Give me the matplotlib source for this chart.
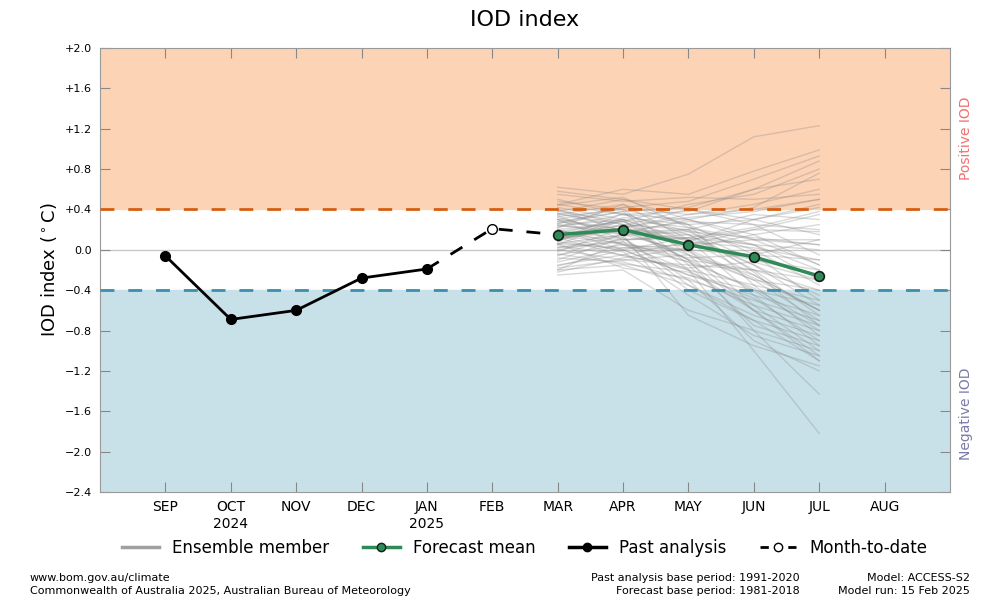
import numpy as np
import matplotlib
matplotlib.use("Agg")
import matplotlib.pyplot as plt
from matplotlib.lines import Line2D

months = ["SEP", "OCT\n2024", "NOV", "DEC", "JAN\n2025", "FEB",
          "MAR", "APR", "MAY", "JUN", "JUL", "AUG"]

past_x = [0, 1, 2, 3, 4]
past_vals = [-0.06, -0.69, -0.60, -0.28, -0.19]

mtd_x = [4, 5, 6]
mtd_vals = [-0.19, 0.21, 0.15]

fc_x = [6, 7, 8, 9, 10]
fc_mean = [0.15, 0.20, 0.05, -0.07, -0.26]

# ensemble members, MAR..JUL (approximate)
ensemble = [
    [0.62, 0.55, 0.75, 1.12, 1.23],
    [0.45, 0.60, 0.55, 0.78, 0.99],
    [0.30, 0.42, 0.48, 0.70, 0.93],
    [0.50, 0.35, 0.38, 0.60, 0.88],
    [0.20, 0.28, 0.45, 0.55, 0.80],
    [0.38, 0.50, 0.30, 0.42, 0.76],
    [0.55, 0.48, 0.52, 0.50, 0.55],
    [0.10, 0.22, 0.35, 0.40, 0.50],
    [0.33, 0.40, 0.25, 0.30, 0.42],
    [0.25, 0.15, 0.20, 0.35, 0.30],
    [0.05, 0.30, 0.10, 0.20, 0.18],
    [0.40, 0.25, 0.05, 0.10, 0.10],
    [0.15, 0.10, 0.15, 0.05, 0.00],
    [-0.05, 0.05, 0.00, -0.05, -0.10],
    [0.22, 0.35, 0.18, -0.10, -0.20],
    [0.00, -0.10, -0.15, -0.20, -0.30],
    [0.12, 0.18, -0.05, -0.30, -0.40],
    [-0.15, -0.05, -0.20, -0.35, -0.50],
    [0.28, 0.20, -0.10, -0.40, -0.55],
    [0.35, 0.45, 0.10, -0.25, -0.60],
    [0.08, 0.00, -0.25, -0.45, -0.65],
    [-0.10, 0.12, -0.30, -0.50, -0.70],
    [0.18, 0.28, 0.00, -0.55, -0.75],
    [0.42, 0.30, -0.20, -0.60, -0.80],
    [-0.20, -0.15, -0.35, -0.65, -0.85],
    [0.02, 0.08, -0.40, -0.70, -0.90],
    [0.26, 0.38, -0.15, -0.75, -0.95],
    [-0.25, -0.20, -0.60, -0.80, -1.00],
    [0.14, -0.02, -0.45, -0.85, -1.05],
    [0.48, 0.40, -0.05, -0.60, -1.10],
    [0.06, 0.15, -0.65, -0.95, -1.15],
    [-0.08, -0.12, -0.30, -0.90, -1.20],
    [0.36, 0.25, -0.10, -0.80, -1.43],
    [0.20, 0.05, -0.20, -1.00, -1.82],
    [0.30, 0.20, 0.15, -0.15, -0.45],
    [0.10, 0.25, 0.20, 0.00, -0.35],
    [0.45, 0.35, 0.30, 0.15, -0.15],
    [-0.12, 0.02, 0.05, -0.10, -0.25],
    [0.24, 0.18, 0.28, 0.25, 0.20],
    [0.58, 0.50, 0.40, 0.25, -0.05],
    [0.00, 0.10, 0.12, 0.05, -0.20],
    [0.16, 0.30, 0.22, 0.10, 0.05],
    [-0.18, -0.10, -0.05, -0.25, -0.60],
    [0.32, 0.15, -0.02, -0.30, -0.70],
    [0.04, -0.05, 0.08, 0.30, 0.45],
    [0.26, 0.42, 0.35, 0.45, 0.60],
    [0.12, 0.20, 0.10, -0.45, -0.95],
    [-0.02, 0.22, -0.10, -0.20, -0.40],
    [0.38, 0.28, 0.05, 0.20, 0.35],
    [0.20, 0.00, -0.25, -0.40, -0.80],
    [0.08, 0.32, 0.25, -0.05, -0.50],
    [0.44, 0.52, 0.22, 0.05, -0.30],
    [-0.22, -0.08, 0.02, 0.15, 0.25],
    [0.18, 0.12, -0.35, -0.70, -1.10],
    [0.28, 0.38, 0.42, 0.60, 0.70],
    [0.06, -0.18, -0.28, -0.55, -1.00],
    [0.34, 0.10, 0.12, -0.15, -0.55],
    [-0.06, 0.16, 0.30, 0.10, -0.15],
    [0.22, 0.45, 0.25, -0.35, -0.85],
    [0.14, 0.06, -0.08, -0.05, 0.10],
    [0.02, 0.14, 0.18, 0.12, 0.05],
    [0.30, 0.05, -0.12, -0.38, -0.75],
    [-0.16, 0.00, 0.12, 0.22, 0.38],
    [0.10, 0.36, 0.15, -0.20, -0.65],
    [0.36, 0.22, 0.32, 0.38, 0.50],
    [-0.04, -0.14, -0.22, -0.48, -0.90],
    [0.24, 0.30, 0.08, 0.02, -0.10],
    [0.12, -0.06, -0.18, -0.12, -0.30],
    [0.40, 0.18, 0.20, -0.22, -0.75],
    [-0.20, 0.08, -0.12, -0.60, -1.05],
    [0.16, 0.24, 0.40, 0.30, 0.15],
    [0.06, 0.02, 0.00, -0.28, -0.60],
]

yticks = [2.0, 1.6, 1.2, 0.8, 0.4, 0.0, -0.4, -0.8, -1.2, -1.6, -2.0, -2.4]
ytick_labels = ["+2.0", "+1.6", "+1.2", "+0.8", "+0.4", "0.0",
                "\u22120.4", "\u22120.8", "\u22121.2", "\u22121.6", "\u22122.0", "\u22122.4"]

fig = plt.figure(figsize=(10, 6), dpi=100)
ax = fig.add_axes([0.1, 0.18, 0.85, 0.74])

ax.set_xlim(-1, 12)
ax.set_ylim(-2.4, 2.0)

# background zones
ax.axhspan(0.4, 2.0, color="#fdd3b5", zorder=0)
ax.axhspan(-2.4, -0.4, color="#c8e1e8", zorder=0)
ax.axhline(0, color="#c8c8c8", lw=1, zorder=1)

for mem in ensemble:
    ax.plot(fc_x, mem, color="#8a8a8a", alpha=0.32, lw=1, zorder=2)

ax.axhline(0.4, color="#d45f14", lw=2, ls=(0, (5, 5)), zorder=3)
ax.axhline(-0.4, color="#3a8fae", lw=2, ls=(0, (5, 5)), zorder=3)

ax.plot(past_x, past_vals, color="black", lw=2, marker="o", ms=7, zorder=5)
ax.plot(mtd_x, mtd_vals, color="black", lw=2, ls=(0, (5, 5)), zorder=4)
ax.plot([5], [mtd_vals[1]], marker="o", ms=7, mfc="white", mec="black",
        mew=1, ls="none", zorder=6)
ax.plot(fc_x, fc_mean, color="#2e8b57", lw=2.5, marker="o", ms=7,
        mfc="#2e8b57", mec="#1a1a1a", mew=1.2, zorder=7)

ax.set_xticks(range(12))
ax.set_xticklabels(months, fontsize=10)
ax.set_yticks(yticks)
ax.set_yticklabels(ytick_labels, fontsize=8)
ax.tick_params(axis="both", direction="in", length=7, color="#888888",
               top=True, right=True, pad=6)
for s in ax.spines.values():
    s.set_color("#999999")

ax.set_ylabel("IOD index ($^\\circ$C)", fontsize=13)
ax.set_title("IOD index", fontsize=16, pad=16)

ax.text(1.019, 0.797, "Positive IOD", transform=ax.transAxes, rotation=90,
        ha="center", va="center", color="#f07070", fontsize=10)
ax.text(1.019, 0.176, "Negative IOD", transform=ax.transAxes, rotation=90,
        ha="center", va="center", color="#7a7aa8", fontsize=10)

handles = [
    Line2D([], [], color="#a0a0a0", lw=2.5),
    Line2D([], [], color="#2e8b57", lw=2.5, marker="o", ms=6,
           mfc="#2e8b57", mec="#1a1a1a"),
    Line2D([], [], color="black", lw=2.5, marker="o", ms=6),
    Line2D([], [], color="black", lw=2, ls=(0, (3, 2)), marker="o", ms=6,
           mfc="white", mec="black"),
]
labels = ["Ensemble member", "Forecast mean", "Past analysis", "Month-to-date"]
fig.legend(handles, labels, loc="center", bbox_to_anchor=(0.525, 0.087),
           ncol=4, frameon=False, fontsize=12, handlelength=2.2,
           columnspacing=2.0)

fig.text(0.03, 0.036, "www.bom.gov.au/climate", fontsize=8, va="center")
fig.text(0.03, 0.015, "Commonwealth of Australia 2025, Australian Bureau of Meteorology",
         fontsize=8, va="center")
fig.text(0.80, 0.036, "Past analysis base period: 1991-2020", fontsize=8,
         ha="right", va="center")
fig.text(0.80, 0.015, "Forecast base period: 1981-2018", fontsize=8,
         ha="right", va="center")
fig.text(0.97, 0.036, "Model: ACCESS-S2", fontsize=8, ha="right", va="center")
fig.text(0.97, 0.015, "Model run: 15 Feb 2025", fontsize=8, ha="right", va="center")

fig.savefig("out.png", dpi=100)
